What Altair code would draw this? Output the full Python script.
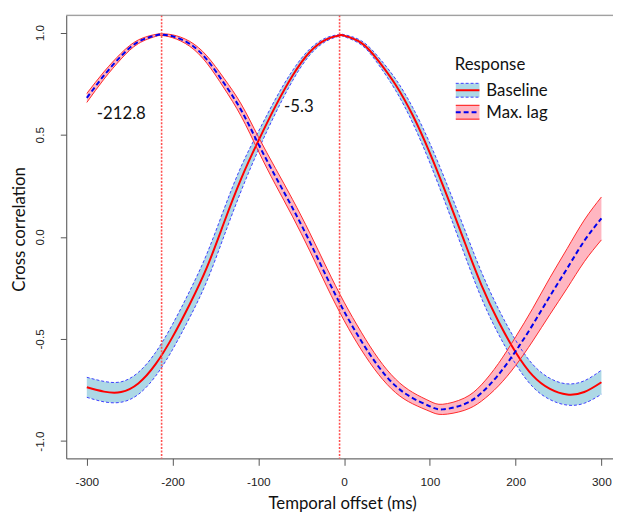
import altair as alt
import pandas as pd

# ---------------- data ----------------
x_base = [-300, -280, -260, -240, -220, -200, -180, -160, -140, -120, -100, -80, -60, -40, -20, -5,
          0, 20, 40, 60, 80, 100, 120, 140, 160, 180, 200, 220, 240, 260, 280, 300]
base_mid = [-0.737, -0.758, -0.76, -0.718, -0.625, -0.49, -0.33, -0.15, 0.07, 0.285, 0.47, 0.64, 0.79, 0.905, 0.968, 0.987,
            0.985, 0.95, 0.862, 0.745, 0.595, 0.41, 0.2, -0.02, -0.235, -0.415, -0.565, -0.68, -0.745, -0.772, -0.76, -0.712]
base_hi = [-0.688, -0.708, -0.71, -0.664, -0.567, -0.428, -0.265, -0.083, 0.136, 0.345, 0.515, 0.675, 0.815, 0.92, 0.976, 0.991,
           0.99, 0.96, 0.88, 0.773, 0.633, 0.458, 0.256, 0.042, -0.171, -0.353, -0.507, -0.625, -0.693, -0.72, -0.705, -0.653]
base_lo = [-0.786, -0.808, -0.81, -0.772, -0.683, -0.552, -0.395, -0.217, 0.004, 0.225, 0.425, 0.605, 0.765, 0.89, 0.96, 0.983,
           0.98, 0.94, 0.844, 0.717, 0.557, 0.362, 0.144, -0.082, -0.299, -0.477, -0.623, -0.735, -0.797, -0.824, -0.815, -0.771]

x_lag = [-300, -280, -260, -240, -220, -213, -200, -180, -160, -140, -120, -100, -80, -60, -40, -20,
         0, 20, 40, 60, 80, 100, 115, 140, 160, 180, 200, 220, 240, 260, 280, 300]
lag_mid = [0.68, 0.79, 0.885, 0.955, 0.986, 0.99, 0.982, 0.945, 0.868, 0.752, 0.62, 0.455, 0.295, 0.14, -0.025, -0.2,
           -0.365, -0.51, -0.635, -0.73, -0.79, -0.83, -0.845, -0.82, -0.765, -0.675, -0.56, -0.43, -0.29, -0.155, -0.02, 0.09]
lag_hi = [0.702, 0.808, 0.899, 0.964, 0.991, 0.994, 0.989, 0.957, 0.886, 0.776, 0.65, 0.49, 0.335, 0.182, 0.019, -0.155,
          -0.32, -0.467, -0.597, -0.697, -0.762, -0.805, -0.82, -0.79, -0.725, -0.62, -0.49, -0.35, -0.2, -0.058, 0.082, 0.195]
lag_lo = [0.658, 0.772, 0.871, 0.946, 0.981, 0.986, 0.975, 0.933, 0.85, 0.728, 0.59, 0.42, 0.255, 0.098, -0.069, -0.245,
          -0.41, -0.553, -0.673, -0.763, -0.818, -0.855, -0.87, -0.85, -0.805, -0.73, -0.63, -0.51, -0.38, -0.252, -0.122, -0.015]

peak_x = [-212.8, -5.3]
peak_labels = ["-212.8", "-5.3"]
peak_label_x = [-259.8, -52.7]
peak_label_y = [0.576, 0.612]

x_ticks = [-300, -200, -100, 0, 100, 200, 300]
y_ticks = [-1.0, -0.5, 0.0, 0.5, 1.0]
legend_title = "Response"
legend_labels = ["Baseline", "Max. lag"]

# ---------------- layout / style ----------------
W, H = 554, 449
XD = [-324, 313.5]
YD = [-1.085, 1.085]
CAL = "Lato"
TICKF = "Liberation Sans Narrow, Liberation Sans, Arial"
INTERP = "natural"

dfB = pd.DataFrame({"x": x_base, "mid": base_mid, "lo": base_lo, "hi": base_hi})
dfM = pd.DataFrame({"x": x_lag, "mid": lag_mid, "lo": lag_lo, "hi": lag_hi})
dfP = pd.DataFrame({"x": peak_x, "lab": peak_labels, "lx": peak_label_x, "ly": peak_label_y})
one = pd.DataFrame({"k": [0]})

xscale = alt.Scale(domain=XD, nice=False, zero=False)
yscale = alt.Scale(domain=YD, nice=False, zero=False)

xaxis = alt.Axis(values=x_ticks, labelExpr="toString(datum.value)", grid=False,
                 labelFont=TICKF, labelFontSize=12, labelColor="#222", labelPadding=11,
                 tickSize=7, tickColor="#555", domainColor="#555",
                 title="Temporal offset (ms)", titleFont=CAL, titleFontSize=17,
                 titleFontWeight="normal", titleColor="#111",
                 titleBaseline="alphabetic", titleY=51, titleX=279.5)
yaxis = alt.Axis(values=y_ticks, labelExpr="replace(format(datum.value, '.1f'), '\u2212', '-')",
                 grid=False, labelAngle=-90, labelAlign="center", labelBaseline="bottom",
                 labelFont=TICKF, labelFontSize=12, labelColor="#222", labelPadding=14,
                 tickSize=6, tickColor="#555", domainColor="#555",
                 title="Cross correlation", titleFont=CAL, titleFontSize=17,
                 titleFontWeight="normal", titleColor="#111", titleAngle=270,
                 titleBaseline="alphabetic", titleX=-42, titleY=216.5)


def X(field="x"):
    return alt.X(f"{field}:Q", scale=xscale, axis=xaxis, title="Temporal offset (ms)")


def Y(field):
    return alt.Y(f"{field}:Q", scale=yscale, axis=yaxis, title="Cross correlation")


areaB = alt.Chart(dfB).mark_area(color="#ADD8E6", opacity=1, interpolate=INTERP).encode(
    x=X(), y=Y("lo"), y2="hi")
areaM = alt.Chart(dfM).mark_area(color="#FFB6C1", opacity=1, interpolate=INTERP).encode(
    x=X(), y=Y("lo"), y2="hi")

bEdgeHi = alt.Chart(dfB).mark_line(stroke="#3d3dff", strokeWidth=1, strokeDash=[3, 2], interpolate=INTERP).encode(x=X(), y=Y("hi"))
bEdgeLo = alt.Chart(dfB).mark_line(stroke="#3d3dff", strokeWidth=1, strokeDash=[3, 2], interpolate=INTERP).encode(x=X(), y=Y("lo"))
bMid = alt.Chart(dfB).mark_line(stroke="#ff0000", strokeWidth=2, interpolate=INTERP).encode(x=X(), y=Y("mid"))

mEdgeHi = alt.Chart(dfM).mark_line(stroke="#ff2a2a", strokeWidth=1, interpolate=INTERP).encode(x=X(), y=Y("hi"))
mEdgeLo = alt.Chart(dfM).mark_line(stroke="#ff2a2a", strokeWidth=1, interpolate=INTERP).encode(x=X(), y=Y("lo"))
mMid = alt.Chart(dfM).mark_line(stroke="#0000ee", strokeWidth=2, strokeDash=[5, 3], interpolate=INTERP).encode(x=X(), y=Y("mid"))

vlines = alt.Chart(dfP).mark_rule(strokeWidth=1.6, strokeDash=[2, 1.5]).encode(
    x=X(), color=alt.value("#ff5050"))
plabels = alt.Chart(dfP).mark_text(font=CAL, fontSize=17, color="#111", align="center",
                                   baseline="alphabetic").encode(x=X("lx"), y=Y("ly"), text="lab:N")

topline = alt.Chart(one).mark_rule(stroke="#888", strokeWidth=1).encode(
    x=alt.value(0), x2=alt.value(W), y=alt.value(0))

# ---------------- manual legend ----------------
LX0, LX1 = 394.7, 418.7
leg = []
leg.append(alt.Chart(one).mark_text(text=legend_title, font=CAL, fontSize=17, color="#111",
                                    align="left", baseline="alphabetic").encode(
    x=alt.value(393.7), y=alt.value(55.3)))
# Baseline entry
t, b = 69.0, 83.0
leg.append(alt.Chart(one).mark_rect(color="#ADD8E6").encode(
    x=alt.value(LX0), x2=alt.value(LX1), y=alt.value(t), y2=alt.value(b)))
for yy in (t, b):
    leg.append(alt.Chart(one).mark_rule(stroke="#3d3dff", strokeWidth=1, strokeDash=[3, 2]).encode(
        x=alt.value(LX0), x2=alt.value(LX1), y=alt.value(yy)))
leg.append(alt.Chart(one).mark_rule(stroke="#ff0000", strokeWidth=2).encode(
    x=alt.value(LX0), x2=alt.value(LX1), y=alt.value((t + b) / 2)))
leg.append(alt.Chart(one).mark_text(text=legend_labels[0], font=CAL, fontSize=17, color="#111",
                                    align="left", baseline="alphabetic").encode(
    x=alt.value(425.7), y=alt.value(82.0)))
# Max. lag entry
t, b = 91.3, 105.3
leg.append(alt.Chart(one).mark_rect(color="#FFB6C1").encode(
    x=alt.value(LX0), x2=alt.value(LX1), y=alt.value(t), y2=alt.value(b)))
for yy in (t, b):
    leg.append(alt.Chart(one).mark_rule(stroke="#ff2a2a", strokeWidth=1.2).encode(
        x=alt.value(LX0), x2=alt.value(LX1), y=alt.value(yy)))
leg.append(alt.Chart(one).mark_rule(stroke="#0000ee", strokeWidth=2, strokeDash=[5, 3]).encode(
    x=alt.value(LX0), x2=alt.value(LX1), y=alt.value((t + b) / 2)))
leg.append(alt.Chart(one).mark_text(text=legend_labels[1], font=CAL, fontSize=17, color="#111",
                                    align="left", baseline="alphabetic").encode(
    x=alt.value(425.7), y=alt.value(104.0)))

chart = alt.layer(
    areaB, areaM, bEdgeHi, bEdgeLo, bMid, mEdgeHi, mEdgeLo, mMid, vlines, plabels, topline, *leg
).properties(
    width=W, height=H,
    autosize=alt.AutoSizeParams(type="none"),
    padding={"left": 59, "top": 4, "right": 0, "bottom": 52},
).configure_view(stroke=None).configure(background="white")

chart.save("out.html", embed_options={"renderer": "svg", "actions": False})
